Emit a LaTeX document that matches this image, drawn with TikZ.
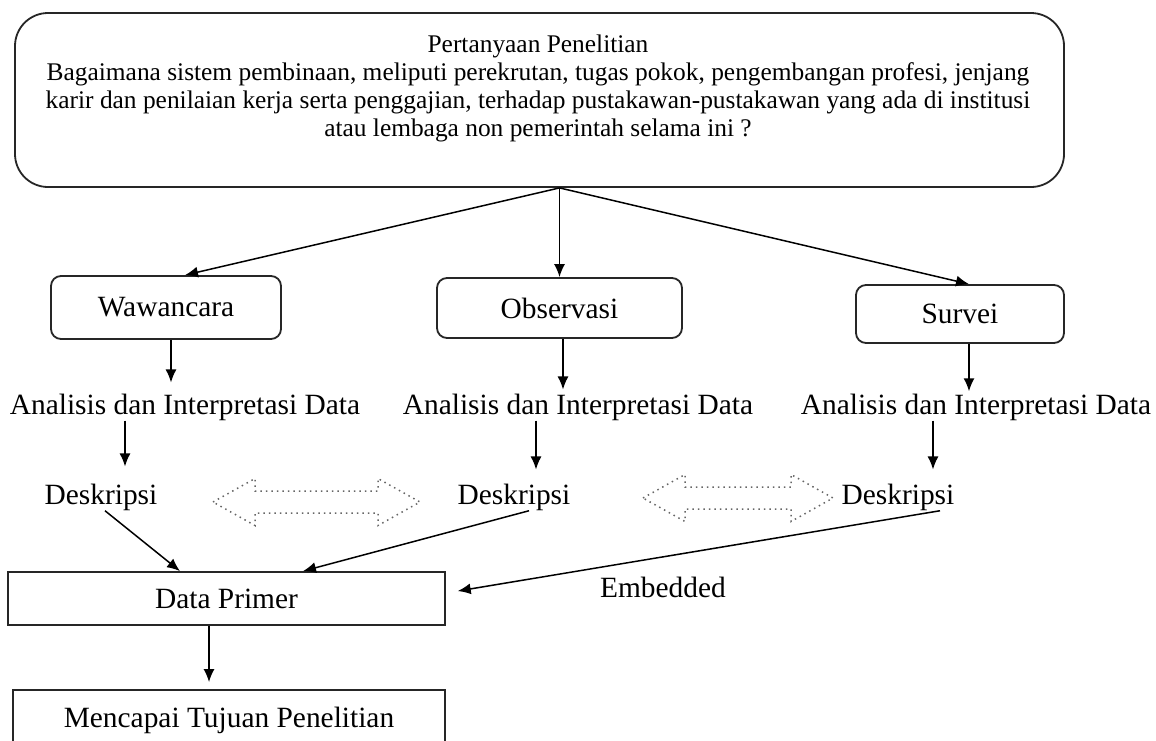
\documentclass[tikz,border=0pt]{standalone}
\usepackage{fontspec}
\setmainfont{Liberation Serif}
\usetikzlibrary{arrows.meta}
\tikzstyle{rbox} = [draw=black!85, line width=0.9pt, rounded corners=5pt, inner sep=0pt, font=\fontsize{14.7}{17}\selectfont]
\tikzstyle{sbox} = [draw=black!85, line width=0.9pt, inner sep=0pt, font=\fontsize{14.7}{17}\selectfont]
\tikzstyle{lbl} = [inner sep=0pt, font=\fontsize{14.7}{17}\selectfont]
\tikzstyle{arr} = [-{Latex[length=6.5pt,width=5.5pt]}, line width=0.75pt]
\tikzstyle{twoway} = [draw=black!60, dotted, line width=0.75pt]

\begin{document}
\begin{tikzpicture}[x=0.5pt, y=-0.5pt]
    \useasboundingbox (0,0) rectangle (1156,740);

    % Research question
    \node[rbox, rounded corners=16.5pt, minimum width=524.5pt, minimum height=87pt] (top) at (539.5,100) {};
    \node[align=center, inner sep=0pt, font=\fontsize{12.7}{14}\selectfont] (q) at (538,88)
        {Pertanyaan Penelitian\\
         Bagaimana sistem pembinaan, meliputi perekrutan, tugas pokok, pengembangan profesi, jenjang\\
         karir dan penilaian kerja serta penggajian, terhadap pustakawan-pustakawan yang ada di institusi\\
         atau lembaga non pemerintah selama ini ?};

    % Methods
    \node[rbox, minimum width=115pt, minimum height=31.5pt] (waw) at (166,307.5) {Wawancara};
    \node[rbox, minimum width=122.5pt, minimum height=30pt] (obs) at (559.5,308) {Observasi};
    \node[rbox, minimum width=104pt, minimum height=29pt] (surv) at (960,314) {Survei};

    \draw[arr] ([xshift=10pt]top.south) -- ([xshift=9.5pt]waw.north);
    \draw[arr] ([xshift=10pt]top.south) -- (obs.north);
    \draw[arr] ([xshift=10pt]top.south) -- ([xshift=4.5pt]surv.north);

    % Analysis
    \node[lbl] (an1) at (185,407) {Analisis dan Interpretasi Data};
    \node[lbl] (an2) at (578,407) {Analisis dan Interpretasi Data};
    \node[lbl] (an3) at (976,407) {Analisis dan Interpretasi Data};

    \draw[arr, shorten >=5.4pt] ([xshift=2.5pt]waw.south) -- ([xshift=2.5pt]waw.south |- an1.north);
    \draw[arr, shorten >=1.9pt] ([xshift=1.75pt]obs.south) -- ([xshift=1.75pt]obs.south |- an2.north);
    \draw[arr, shorten >=1pt] ([xshift=4.5pt]surv.south) -- ([xshift=4.5pt]surv.south |- an3.north);

    % Descriptions
    \node[lbl] (desk1) at (101,497) {Deskripsi};
    \node[lbl] (desk2) at (514,497) {Deskripsi};
    \node[lbl] (desk3) at (898,497) {Deskripsi};

    \draw[arr, shorten >=8.4pt] ([xshift=-30pt]an1.south) -- ([xshift=-30pt]an1.south |- desk1.north);
    \draw[arr, shorten >=6.9pt] ([xshift=-21pt]an2.south) -- ([xshift=-21pt]an2.south |- desk2.north);
    \draw[arr, shorten >=6.9pt] ([xshift=-21.5pt]an3.south) -- ([xshift=-21.5pt]an3.south |- desk3.north);

    % Two-way comparison
    \foreach \xa/\xb/\yc in {213/420/502, 643/833/498}
        \draw[twoway] (\xa,\yc) -- (\xa+42,\yc-23.5) -- (\xa+42,\yc-11) -- (\xb-42,\yc-11)
            -- (\xb-42,\yc-23.5) -- (\xb,\yc) -- (\xb-42,\yc+23.5) -- (\xb-42,\yc+11)
            -- (\xa+42,\yc+11) -- (\xa+42,\yc+23.5) -- cycle;

    % Primary data and goal
    \node[sbox, minimum width=218.5pt, minimum height=26.5pt] (dp) at (226.5,598.5) {Data Primer};
    \node[sbox, minimum width=216pt, minimum height=30pt] (goal) at (229,720) {Mencapai Tujuan Penelitian};
    \node[lbl] (emb) at (663,587) {Embedded};

    \draw[arr] ([xshift=2pt]desk1.south) -- ([xshift=-23.25pt]dp.north);
    \draw[arr] ([xshift=7.5pt]desk2.south) -- ([xshift=38.25pt]dp.north);
    \draw[arr, shorten >=6pt] ([xshift=21pt]desk3.south) -- ([yshift=2.75pt]dp.east);
    \draw[arr, shorten >=3.5pt] ([xshift=-8.75pt]dp.south) -- ([xshift=-8.75pt]dp.south |- goal.north);
\end{tikzpicture}
\end{document}
